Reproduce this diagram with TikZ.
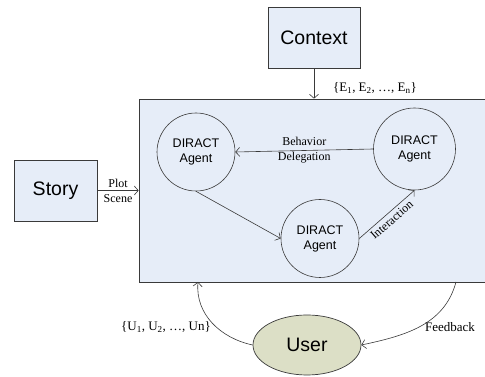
\documentclass[tikz,border=0pt]{standalone}
\usepackage{fontspec}
\setmainfont{Liberation Serif}
\newfontfamily\sansfont{Liberation Sans}
\usepackage{xcolor}
\usetikzlibrary{arrows.meta,positioning,calc,shapes.geometric}
\definecolor{boxblue}{HTML}{E6EDF8}
\definecolor{userfill}{HTML}{DCDFC6}
\definecolor{edge}{HTML}{3A3A3A}

\begin{document}
\begin{tikzpicture}[x=1pt,y=1pt,>={Straight Barb[length=4pt,width=9pt]},
  box/.style={draw=edge,fill=boxblue,line width=0.7pt,font=\sansfont\fontsize{19.5}{22}\selectfont},
  agent/.style={draw=edge,circle,fill=boxblue,line width=0.6pt,align=center,inner sep=0pt,font=\sansfont\fontsize{12.5}{15}\selectfont},
  lbl/.style={font=\fontsize{12}{15}\selectfont,inner sep=1pt,align=center},
  outlbl/.style={font=\fontsize{13}{15}\selectfont,inner sep=1pt},
  link/.style={->,line width=0.6pt,draw=edge}]
\useasboundingbox (0,0) rectangle (485,377);
\node[box,minimum width=92pt,minimum height=61pt] (ctx) at (314,339.5) {Context};
\node[box,minimum width=83pt,minimum height=61pt] (story) at (55.5,186.5) {Story};
\node[box,minimum width=356pt,minimum height=183pt] (main) at (317,186.5) {};
\node[agent,minimum size=78pt] (a1) at (196,225) {DIRACT\\Agent};
\node[agent,minimum size=82pt] (a2) at (414.5,228) {DIRACT\\Agent};
\node[agent,minimum size=78pt] (a3) at (320,138.5) {DIRACT\\Agent};
\node[draw=edge,ellipse,fill=userfill,line width=0.7pt,minimum width=108pt,minimum height=60pt,inner sep=0pt,font=\sansfont\fontsize{19.5}{22}\selectfont] (user) at (307,32) {User};
\coordinate (uin) at (198,95);
\coordinate (fout) at (456,95);

\draw[link] (ctx.south)--(ctx.south |- main.north);
\node[outlbl] (elbl) at (375,289) {\{E\textsubscript{1}, E\textsubscript{2}, \ldots, E\textsubscript{n}\}};
\draw[link] (story.east)--node[lbl,midway]{Plot\\Scene}(story.east -| main.west);
\draw[link] (a2.west)--node[lbl,midway]{Behavior\\Delegation}(a1.east);
\draw[link] (a1.south)--(a3.west);
\draw[link] (a3.east)--node[lbl,sloped,below=2pt,pos=0.5]{Interaction}(a2.south);
\draw[link] (user.west) to[out=168,in=-95] (uin);
\draw[link] (fout) to[out=-105,in=12] (user.east);
\node[outlbl] (ulbl) at (166,50) {\{U\textsubscript{1}, U\textsubscript{2}, \ldots, Un\}};
\node[outlbl] (fb) at (450,50) {Feedback};
\end{tikzpicture}
\end{document}
